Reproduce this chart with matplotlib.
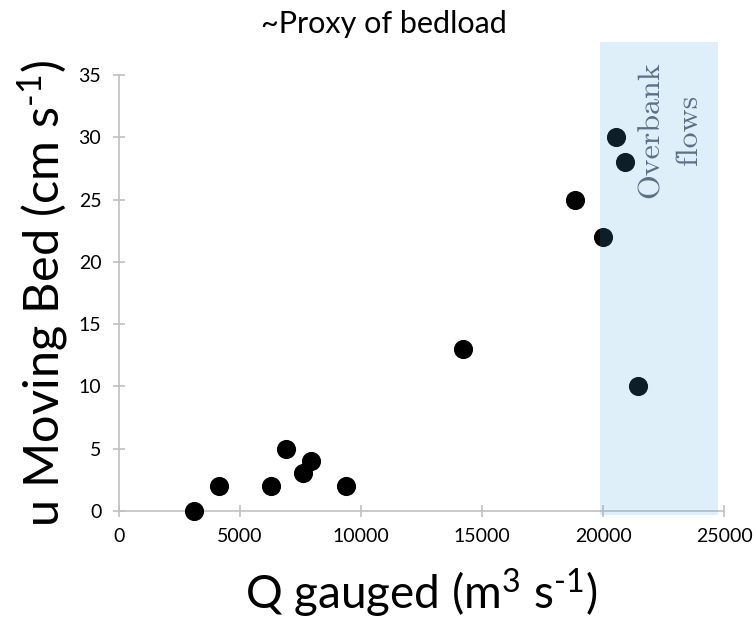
import matplotlib
matplotlib.use("Agg")
import matplotlib.pyplot as plt
from matplotlib.patches import Rectangle

# measured discharge vs. moving-bed velocity
q_gauged = [3100, 4150, 6300, 6900, 7600, 7950, 9400, 14200, 18850, 19980, 20550, 20900, 21450]
u_moving_bed = [0, 2, 2, 5, 3, 4, 2, 13, 25, 22, 30, 28, 10]

x_ticks = [0, 5000, 10000, 15000, 20000, 25000]
y_ticks = [0, 5, 10, 15, 20, 25, 30, 35]

# overbank flow range (shaded)
overbank_q = (19850, 24750)

plt.rcParams["font.family"] = ["Lato", "DejaVu Sans"]
plt.rcParams["mathtext.fontset"] = "custom"
plt.rcParams["mathtext.rm"] = "Lato"
plt.rcParams["mathtext.it"] = "Lato"

fig = plt.figure(figsize=(7.56, 6.26), dpi=100)
ax = fig.add_axes([0.157, 0.184, 0.801, 0.696])

ax.scatter(q_gauged, u_moving_bed, s=190, color="black", zorder=3, clip_on=False,
           linewidths=0)

ax.set_xlim(0, 25000)
ax.set_ylim(0, 35)
ax.set_xticks(x_ticks)
ax.set_yticks(y_ticks)
ax.tick_params(direction="inout", length=9, width=1.2, color="#c0c0c0",
               labelsize=14, pad=8)

for side in ["top", "right"]:
    ax.spines[side].set_visible(False)
for side in ["left", "bottom"]:
    ax.spines[side].set_color("#c0c0c0")
    ax.spines[side].set_linewidth(1.2)

band = Rectangle((overbank_q[0], -0.35), overbank_q[1] - overbank_q[0], 38.0,
                 facecolor="#52a8e4", alpha=0.18, edgecolor="none",
                 zorder=4, clip_on=False)
ax.add_patch(band)

ax.text(22750, 30.6, "Overbank\nflows", rotation=90, family="cmr10",
        fontsize=23, color="#5b6f86", ha="center", va="center",
        multialignment="center", linespacing=1.5, zorder=5)

fig.text(0.508, 0.962, "~Proxy of bedload", ha="center", va="center", fontsize=22)
ax.set_xlabel(r"Q gauged (m$^{3}$ s$^{\text{-1}}$)", fontsize=33, labelpad=15)
ax.set_ylabel(r"u Moving Bed (cm s$^{\text{-1}}$)", fontsize=35, labelpad=6)

fig.savefig("out.png", dpi=100)
